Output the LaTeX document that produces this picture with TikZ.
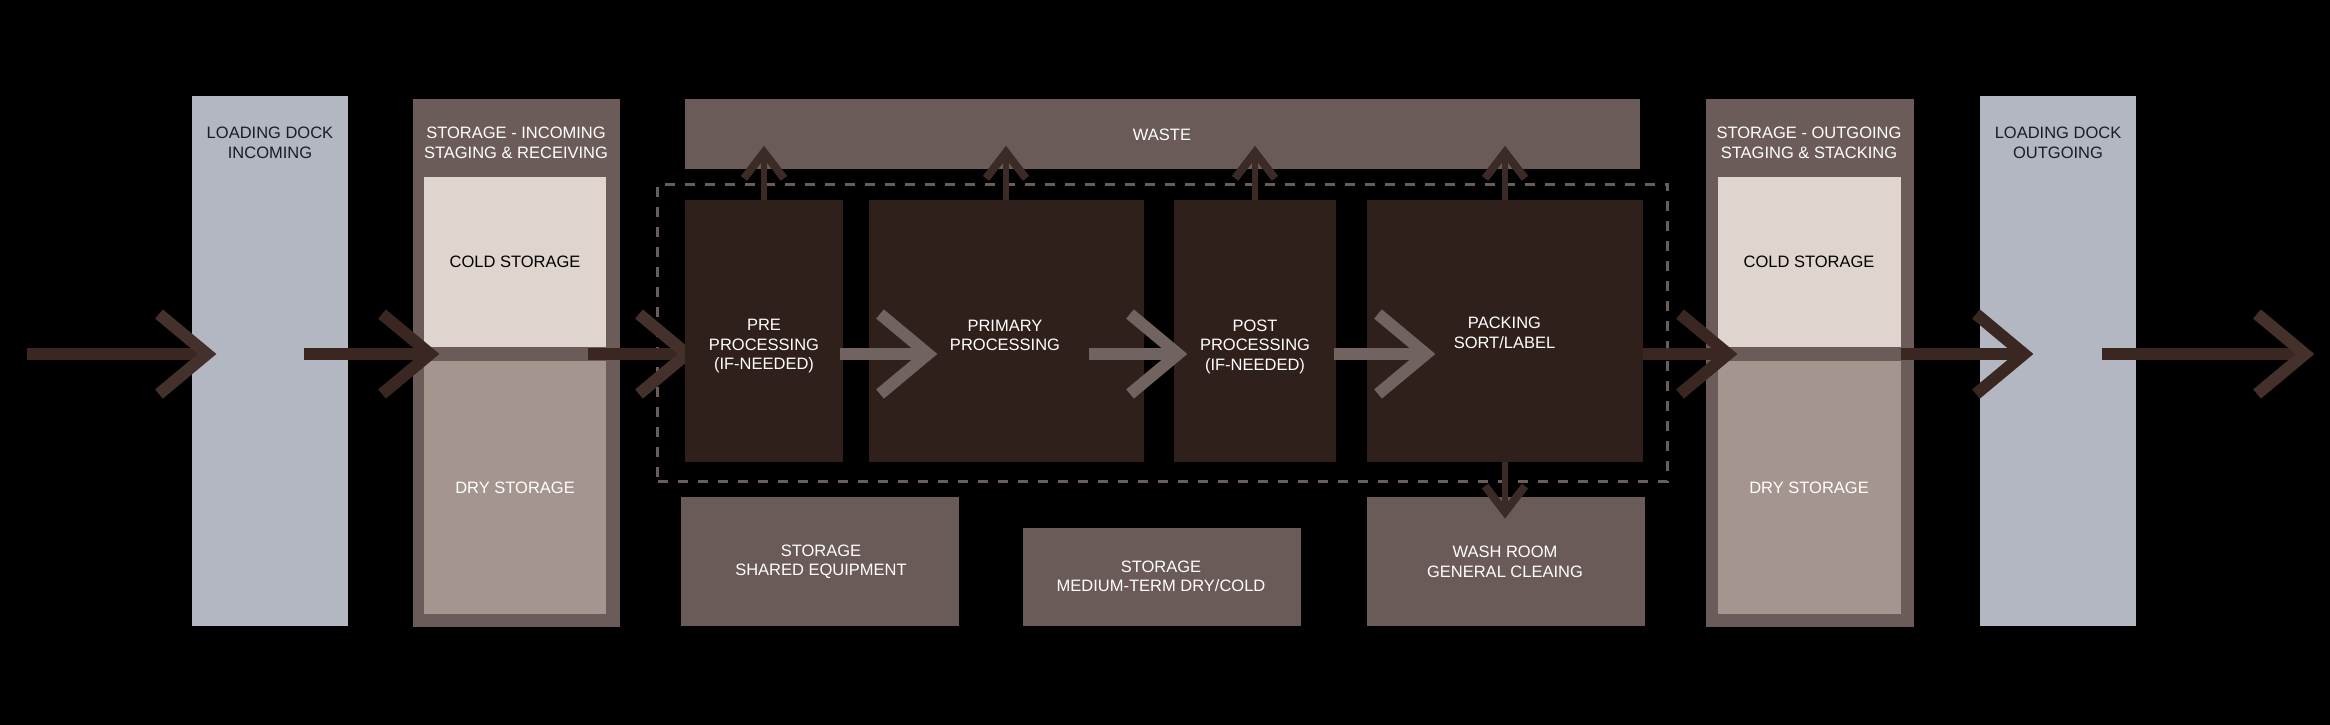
\documentclass[tikz,border=0pt]{standalone}
\usepackage{fontspec}
\setmainfont{Liberation Sans}
\definecolor{dockc}{HTML}{B2B7C2}
\definecolor{stoc}{HTML}{6B5C59}
\definecolor{coldc}{HTML}{DFD5CE}
\definecolor{dryc}{HTML}{A4968F}
\definecolor{wastec}{HTML}{6A5A58}
\definecolor{procc}{HTML}{30201C}
\definecolor{shaftc}{HTML}{3A2722}
\definecolor{chevc}{HTML}{45312B}
\definecolor{innerc}{HTML}{716360}
\definecolor{dashc}{HTML}{6A5E5B}
\definecolor{upc}{HTML}{3B2A26}
\definecolor{darktxt}{HTML}{1C1C26}
\newcommand\chevr[2]{\draw[#1] (#2) ++(-48,-40) -- (#2) -- ++(-48,40);}
\begin{document}
\begin{tikzpicture}[x=1pt,y=-1pt,
  rect/.style={inner sep=0pt,outer sep=0pt,draw=none},
  shaft/.style={line width=12pt,line cap=butt},
  chev/.style={line width=12pt,line cap=butt,line join=miter},
  upshaft/.style={line width=6.5pt,draw=upc},
  upchev/.style={line width=8pt,draw=upc,line join=miter,line cap=butt},
  txt/.style={inner sep=0pt,outer sep=0pt,align=center,font=\fontsize{16.5}{19.5}\selectfont},
  wtxt/.style={txt,text=white},
  btxt/.style={txt,text=darktxt}]
\fill[black] (0,0) rectangle (2330,725);
\useasboundingbox (0,0) rectangle (2330,725);
% columns
\node[rect,fill=dockc,minimum width=155.5pt,minimum height=529.5pt] (dockin) at (269.75,360.75) {};
\node[rect,fill=stoc,minimum width=207pt,minimum height=528pt] (stoin) at (516,362.5) {};
\node[rect,fill=coldc,minimum width=182pt,minimum height=170pt] (coldin) at (515,262) {};
\node[rect,fill=dryc,minimum width=182pt,minimum height=253pt] (dryin) at (515,487.5) {};
\node[rect,fill=stoc,minimum width=207.5pt,minimum height=528pt] (stoout) at (1809.75,362.5) {};
\node[rect,fill=coldc,minimum width=182.5pt,minimum height=170pt] (coldout) at (1809.25,262) {};
\node[rect,fill=dryc,minimum width=182.5pt,minimum height=253pt] (dryout) at (1809.25,487.5) {};
\node[rect,fill=dockc,minimum width=156pt,minimum height=529.5pt] (dockout) at (2058,360.75) {};
% waste and bottom rooms
\node[rect,fill=wastec,minimum width=955.4pt,minimum height=70.4pt] (waste) at (1162.3,133.8) {};
\node[rect,fill=wastec,minimum width=278pt,minimum height=129pt] (shared) at (820,561.5) {};
\node[rect,fill=wastec,minimum width=277.7pt,minimum height=98.5pt] (medium) at (1161.9,576.8) {};
\node[rect,fill=wastec,minimum width=278pt,minimum height=129pt] (wash) at (1506,561.5) {};
% processing zone
\node[rect,draw=dashc,line width=3pt,dash pattern=on 10pt off 10pt,minimum width=1010pt,minimum height=297pt] (zone) at (1162.5,332.75) {};
% arrow into pre processing (behind the box)
\coordinate (a3s) at (588,354);
\coordinate (a3t) at (687,354);
\draw[shaft,draw=shaftc] (a3s) -- (a3t);
\chevr{chev,draw=chevc}{a3t}
% processing boxes
\node[rect,fill=procc,minimum width=158.4pt,minimum height=262.4pt] (pre) at (763.8,330.8) {};
\node[rect,fill=procc,minimum width=275pt,minimum height=262.4pt] (primary) at (1006.1,330.8) {};
\node[rect,fill=procc,minimum width=162pt,minimum height=262.4pt] (post) at (1254.5,330.8) {};
\node[rect,fill=procc,minimum width=276pt,minimum height=262.4pt] (packing) at (1505,330.8) {};
% main flow arrows
\coordinate (a1s) at (27,354);     \coordinate (a1t) at (207,354);
\coordinate (a2s) at (304,354);    \coordinate (a2t) at (430,354);
\coordinate (a7s) at (1643,354);   \coordinate (a7t) at (1728,354);
\coordinate (a8s) at (1900.6,354); \coordinate (a8t) at (2024,354);
\coordinate (a9s) at (2101.7,354); \coordinate (a9t) at (2305,354);
\draw[shaft,draw=shaftc] (a1s) -- (a1t); \chevr{chev,draw=chevc}{a1t}
\draw[shaft,draw=shaftc] (a2s) -- (a2t); \chevr{chev,draw=shaftc}{a2t}
\draw[shaft,draw=shaftc] (a7s) -- (a7t); \chevr{chev,draw=shaftc}{a7t}
\draw[shaft,draw=shaftc] (a8s) -- (a8t); \chevr{chev,draw=shaftc}{a8t}
\draw[shaft,draw=shaftc] (a9s) -- (a9t); \chevr{chev,draw=chevc}{a9t}
% inner arrows
\coordinate (a4s) at (839.5,354);  \coordinate (a4t) at (928,354);
\coordinate (a5s) at (1088.7,354); \coordinate (a5t) at (1178,354);
\coordinate (a6s) at (1333.5,354); \coordinate (a6t) at (1426,354);
\draw[shaft,draw=innerc] (a4s) -- (a4t); \chevr{chev,draw=innerc}{a4t}
\draw[shaft,draw=innerc] (a5s) -- (a5t); \chevr{chev,draw=innerc}{a5t}
\draw[shaft,draw=innerc] (a6s) -- (a6t); \chevr{chev,draw=innerc}{a6t}
% arrows to waste
\foreach \n/\xx in {pre/764,primary/1006,post/1255,packing/1505}{
  \coordinate (w\n) at (\xx,152.4);
  \draw[upshaft] (\n.north -| w\n) -- (w\n);
  \draw[upchev] (w\n) ++(-20,26) -- (w\n) -- ++(20,26);
}
% arrow to wash room
\coordinate (wt) at (1505,512);
\draw[upshaft] (packing.south -| wt) -- (wt);
\draw[upchev] (wt) ++(-20,-26) -- (wt) -- ++(20,-26);
% texts
\node[btxt] (tdockin) at (270,142.8) {LOADING DOCK\\INCOMING};
\node[wtxt] (tstoin) at (516,142.8) {STORAGE - INCOMING\\STAGING \& RECEIVING};
\node[txt,text=black] (tcoldin) at (515,262) {COLD STORAGE};
\node[wtxt] (tdryin) at (515,488) {DRY STORAGE};
\node[wtxt] (twaste) at (1162,135) {WASTE};
\node[wtxt] (tpre) at (764,346.5) {PRE\\PROCESSING\\(IF-NEEDED)};
\node[wtxt] (tprimary) at (1005,335.5) {PRIMARY\\PROCESSING};
\node[wtxt] (tpost) at (1255,346.5) {POST\\PROCESSING\\(IF-NEEDED)};
\node[wtxt] (tpacking) at (1504.5,332.7) {PACKING\\SORT/LABEL};
\node[wtxt] (tshared) at (821,562) {STORAGE\\SHARED EQUIPMENT};
\node[wtxt] (tmedium) at (1161,576.2) {STORAGE\\MEDIUM-TERM DRY/COLD};
\node[wtxt] (twash) at (1505,562) {WASH ROOM\\GENERAL CLEAING};
\node[wtxt] (tstoout) at (1809,142.8) {STORAGE - OUTGOING\\STAGING \& STACKING};
\node[txt,text=black] (tcoldout) at (1809,262) {COLD STORAGE};
\node[wtxt] (tdryout) at (1809,488) {DRY STORAGE};
\node[btxt] (tdockout) at (2058,142.8) {LOADING DOCK\\OUTGOING};
\end{tikzpicture}
\end{document}
